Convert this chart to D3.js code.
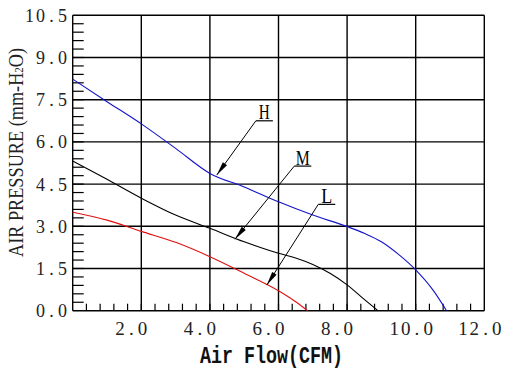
<!DOCTYPE html>
<html><head><meta charset="utf-8">
<script src="https://cdn.jsdelivr.net/npm/d3@7"></script>
<style>html,body{margin:0;padding:0;background:#fff;}svg{display:block;}</style>
</head><body>
<svg id="c" width="507" height="369"></svg>
<script>
// ---- data ----
const xTickValues = [2, 4, 6, 8, 10, 12];
const xTickLabels = ["2.0", "4.0", "6.0", "8.0", "10.0", "12.0"];
const yTickValues = [0, 1.5, 3, 4.5, 6, 7.5, 9, 10.5];
const yTickLabels = ["0.0", "1.5", "3.0", "4.5", "6.0", "7.5", "9.0", "10.5"];

const hFlow = [0, 1, 2, 3, 4, 5, 6, 7, 8, 8.5, 9, 9.5, 10, 10.5, 10.9];
const hPres = [8.23, 7.43, 6.64, 5.77, 4.88, 4.4, 3.87, 3.4, 2.99, 2.75, 2.45, 2.0, 1.45, 0.74, 0];
const mFlow = [0, 1, 2, 3, 4, 5, 6, 6.5, 7, 7.5, 8, 8.5, 8.9];
const mPres = [5.32, 4.67, 4.0, 3.4, 2.93, 2.45, 2.04, 1.87, 1.64, 1.33, 0.92, 0.4, 0];
const lFlow = [0, 1, 2, 3, 4, 5, 6, 6.5, 6.85];
const lPres = [3.5, 3.22, 2.82, 2.43, 1.92, 1.33, 0.71, 0.32, 0];

const seriesNames = ["H", "M", "L"];
const seriesColors = ["#1414c8", "#000000", "#e01010"];
// annotation: label anchor (flow, pressure) and arrow tip (flow, pressure)
const labelFlow = [5.34, 6.46, 7.16];
const labelPres = [6.75, 5.14, 3.78];
const tipFlow = [4.20, 4.73, 5.66];
const tipPres = [4.82, 2.54, 0.91];

// ---- chart ----
const svg = d3.select("#c");
const pLeft = 72.7, pRight = 484.3, pTop = 15.3, pBottom = 310.7;
const x = d3.scaleLinear().domain([0, 12]).range([pLeft, pRight]);
const y = d3.scaleLinear().domain([0, 10.5]).range([pBottom, pTop]);

svg.append("rect").attr("width", 507).attr("height", 369).attr("fill", "#fff");

const g = svg.append("g");
// minor ticks
const yMinor = d3.range(1, 35).map(i => i * 0.3);
g.selectAll(".ym").data(yMinor).join("line")
  .attr("x1", x(0)).attr("x2", x(0) + 11)
  .attr("y1", d => y(d)).attr("y2", d => y(d))
  .attr("stroke", "#000").attr("stroke-width", 1.2);
const xMinor = d3.range(1, 30).map(i => i * 0.4);
g.selectAll(".xm").data(xMinor).join("line")
  .attr("x1", d => x(d)).attr("x2", d => x(d))
  .attr("y1", y(0)).attr("y2", y(0) - 7)
  .attr("stroke", "#000").attr("stroke-width", 1.2);

// grid
g.selectAll(".gx").data([0].concat(xTickValues)).join("line")
  .attr("x1", d => x(d)).attr("x2", d => x(d))
  .attr("y1", y(0)).attr("y2", y(10.5))
  .attr("stroke", "#000").attr("stroke-width", 1.4);
g.selectAll(".gy").data(yTickValues).join("line")
  .attr("x1", x(0)).attr("x2", x(12))
  .attr("y1", d => y(d)).attr("y2", d => y(d))
  .attr("stroke", "#000").attr("stroke-width", 1.4);

// curves
const line = d3.line().x(d => x(d[0])).y(d => y(d[1])).curve(d3.curveMonotoneX);
const series = [
  d3.zip(hFlow, hPres),
  d3.zip(mFlow, mPres),
  d3.zip(lFlow, lPres)
];
series.forEach((s, i) => {
  g.append("path").attr("d", line(s)).attr("fill", "none")
    .attr("stroke", seriesColors[i]).attr("stroke-width", 1.1);
});

// annotations
seriesNames.forEach((name, i) => {
  const lx = x(labelFlow[i]), ly = y(labelPres[i]);
  const tx = x(tipFlow[i]), ty = y(tipPres[i]);
  g.append("line").attr("x1", lx).attr("y1", ly).attr("x2", lx + 17).attr("y2", ly)
    .attr("stroke", "#000").attr("stroke-width", 1.2);
  g.append("line").attr("x1", lx).attr("y1", ly).attr("x2", tx).attr("y2", ty)
    .attr("stroke", "#000").attr("stroke-width", 1);
  const dx = lx - tx, dy = ly - ty, len = Math.hypot(dx, dy);
  const ux = dx / len, uy = dy / len;
  const AL = 14, AW = 2.6;
  const bx = tx + ux * AL, by = ty + uy * AL;
  g.append("polygon")
    .attr("points", [[tx, ty], [bx - uy * AW, by + ux * AW], [bx, by], [bx + uy * AW, by - ux * AW]].map(p => p.join(",")).join(" "))
    .attr("fill", "#000");
  g.append("text").attr("x", lx + 8.5).attr("y", ly - 1.5)
    .attr("text-anchor", "middle")
    .attr("font-family", "'Liberation Serif', serif").attr("font-size", 20)
    .attr("textLength", name === "M" ? 14 : 11).attr("lengthAdjust", "spacingAndGlyphs")
    .text(name);
});

// tick labels (fixed pitch characters)
const tickFont = "'Liberation Serif', serif";
xTickLabels.forEach((lab, i) => {
  const start = x(xTickValues[i]) - 27, pitch = 11.3;
  const xs = lab.split("").map((c, k) => start + pitch * (k + 0.5));
  svg.append("text").attr("x", xs.join(" ")).attr("y", 335)
    .attr("text-anchor", "middle").attr("font-family", tickFont).attr("font-size", 19)
    .attr("fill", "#222").text(lab);
});
yTickLabels.forEach((lab, i) => {
  const end = 68, pitch = 11, n = lab.length;
  const xs = lab.split("").map((c, k) => end - pitch * (n - k - 0.5));
  svg.append("text").attr("x", xs.join(" ")).attr("y", y(yTickValues[i]) + 6.5)
    .attr("text-anchor", "middle").attr("font-family", tickFont).attr("font-size", 18)
    .attr("fill", "#222").text(lab);
});

// axis titles
const yt = svg.append("text").attr("transform", "translate(23,152.5) rotate(-90)")
  .attr("text-anchor", "middle").attr("font-family", tickFont).attr("font-size", 20)
  .attr("fill", "#222").attr("textLength", 209).attr("lengthAdjust", "spacingAndGlyphs");
yt.append("tspan").text("AIR PRESSURE (mm-H");
yt.append("tspan").attr("font-size", 12).text("2");
yt.append("tspan").text("O)");

svg.append("g").attr("transform", "translate(271.5,363) scale(1,1.3)")
  .append("text").attr("x", 0).attr("y", 0).attr("text-anchor", "middle")
  .attr("font-family", "'Liberation Mono', monospace").attr("font-weight", "bold")
  .attr("font-size", 18).attr("fill", "#111")
  .attr("textLength", 143).attr("lengthAdjust", "spacingAndGlyphs")
  .text("Air Flow(CFM)");
</script>
</body></html>
